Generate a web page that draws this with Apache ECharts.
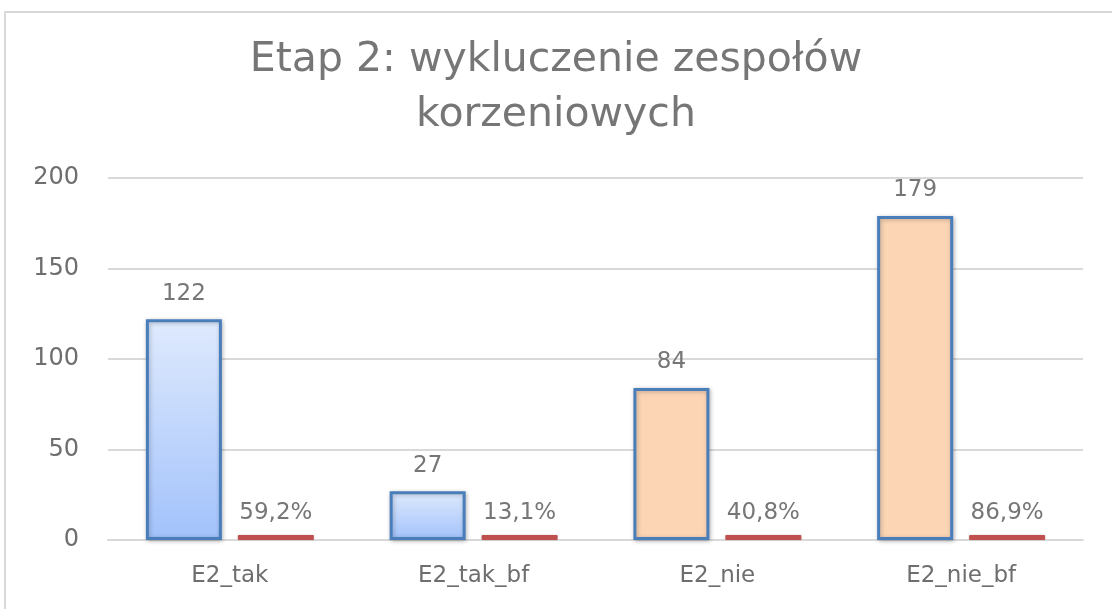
<!DOCTYPE html>
<html>
<head>
<meta charset="utf-8">
<script src="https://cdn.jsdelivr.net/npm/echarts@6/dist/echarts.min.js"></script>
<style>
html,body{margin:0;padding:0;background:#fff;}
#c{width:1112px;height:609px;}
</style>
</head>
<body>
<div id="c"></div>
<script>
const categories = ['E2_tak', 'E2_tak_bf', 'E2_nie', 'E2_nie_bf'];
const counts = [122, 27, 84, 179];
const shares = [0.592, 0.131, 0.408, 0.869];
const yTicks = { min: 0, max: 200, interval: 50 };
const titleText = 'Etap 2: wykluczenie zespołów\nkorzeniowych';

const FONT = 'DejaVu Sans';
const blueFill = new echarts.graphic.LinearGradient(0, 0, 0, 1, [
  { offset: 0, color: '#dfeafd' },
  { offset: 1, color: '#a2c2fb' }
]);
const orangeFill = '#fcd5b5';

const chart = echarts.init(document.getElementById('c'));
chart.setOption({
  animation: false,
  backgroundColor: '#fff',
  title: {
    text: titleText,
    left: 'center',
    top: 28,
    textStyle: { fontFamily: FONT, fontSize: 41, fontWeight: 'normal', color: '#767676', lineHeight: 55 }
  },
  graphic: [{
    type: 'rect',
    shape: { x: 5, y: 12, width: 1200, height: 700 },
    style: { fill: 'none', stroke: '#d9d9d9', lineWidth: 2 },
    silent: true, z: -1
  }],
  grid: { left: 108, right: 29, top: 178, bottom: 69 },
  xAxis: {
    type: 'category',
    data: categories,
    axisTick: { show: false },
    axisLine: { show: true, lineStyle: { color: '#d9d9d9', width: 2 } },
    axisLabel: { fontFamily: FONT, fontSize: 23, color: '#6e6e6e', margin: 25 }
  },
  yAxis: {
    type: 'value',
    min: yTicks.min, max: yTicks.max, interval: yTicks.interval,
    axisLine: { show: false },
    axisTick: { show: false },
    splitLine: { lineStyle: { color: '#d9d9d9', width: 2 } },
    axisLabel: { fontFamily: FONT, fontSize: 24, color: '#6e6e6e', margin: 29 }
  },
  series: [
    {
      type: 'bar',
      barWidth: 76,
      barGap: '21%',
      data: counts.map((v, i) => ({
        value: v,
        itemStyle: { color: i < 2 ? blueFill : orangeFill }
      })),
      itemStyle: {
        borderColor: '#4a7ebb', borderWidth: 3,
        shadowBlur: 4, shadowColor: 'rgba(0,0,0,0.25)', shadowOffsetX: 1, shadowOffsetY: 1
      },
      label: { show: true, position: 'top', distance: 14, fontFamily: FONT, fontSize: 23, color: '#767676' }
    },
    {
      type: 'bar',
      barWidth: 76,
      barMinHeight: 5,
      data: shares,
      itemStyle: { color: '#c0504d', borderRadius: 1, shadowBlur: 2, shadowColor: 'rgba(0,0,0,0.2)' },
      label: {
        show: true, position: 'top', distance: 10, fontFamily: FONT, fontSize: 23, color: '#767676',
        formatter: p => (p.value * 100).toFixed(1).replace('.', ',') + '%'
      }
    }
  ]
});
</script>
</body>
</html>
